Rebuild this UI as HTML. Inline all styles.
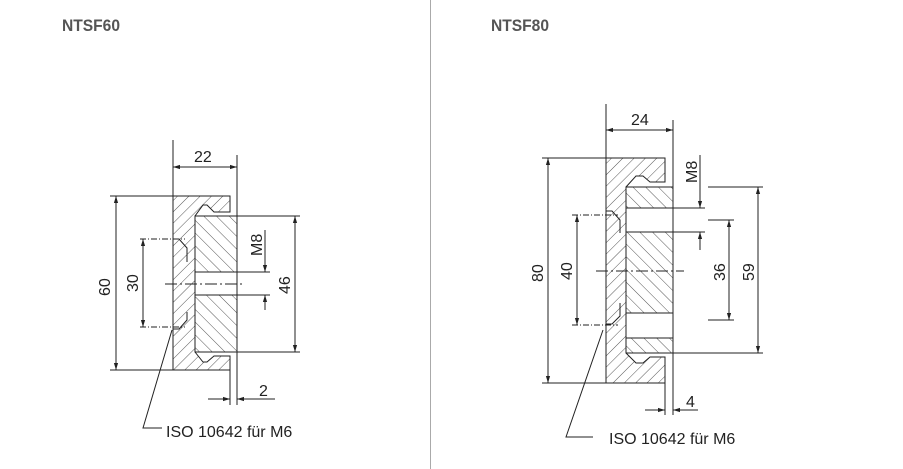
<!DOCTYPE html>
<html><head><meta charset="utf-8"><style>
html,body{margin:0;padding:0;background:#fff;}
svg{display:block;}
.t{font-family:"Liberation Sans",sans-serif;font-size:16px;fill:#222;}
.h{font-family:"Liberation Sans",sans-serif;font-weight:bold;font-size:17px;fill:#555;}
</style></head><body>
<svg width="903" height="469" viewBox="0 0 903 469" xmlns="http://www.w3.org/2000/svg">
<defs>
<pattern id="hb" width="8" height="8" patternUnits="userSpaceOnUse" patternTransform="rotate(45)">
<line x1="0" y1="0" x2="0" y2="8" stroke="#444" stroke-width="0.9"/></pattern>
<pattern id="hi" width="9" height="9" patternUnits="userSpaceOnUse" patternTransform="rotate(-45)">
<line x1="0" y1="0" x2="0" y2="9" stroke="#444" stroke-width="0.9"/></pattern>
<marker id="a" viewBox="0 0 10 10" refX="10" refY="5" markerWidth="7" markerHeight="7" orient="auto-start-reverse"><path d="M0,2 L10,5 L0,8 z" fill="#222"/></marker>
</defs>
<line x1="430.5" y1="0" x2="430.5" y2="469" stroke="#aaa" stroke-width="1"/>
<text class="h" x="62" y="31" textLength="58" lengthAdjust="spacingAndGlyphs">NTSF60</text>
<text class="h" x="491" y="31" textLength="58" lengthAdjust="spacingAndGlyphs">NTSF80</text>

<g stroke="#222" stroke-width="1" fill="none">
<!-- LEFT -->
<path d="M173,196 H230 V212 H214 L207,205 H203 L195,216 V352 L203,362 H207 L214,356 H230 V370 H173 Z" fill="url(#hb)"/>
<path d="M173,196 V370 H230 V356 M230,212 V196" />
<rect x="195" y="216" width="42" height="136" fill="url(#hi)"/>
<rect x="195" y="272" width="42" height="23" fill="#fff"/>
<line x1="195" y1="272" x2="237" y2="272"/><line x1="195" y1="295" x2="237" y2="295"/>
<path d="M173,239 L179,239 L187,248 V262 M187,312 V320 L179,329 H173" />
<line x1="173" y1="140" x2="173" y2="196"/><line x1="237" y1="155" x2="237" y2="216"/>
<line x1="173" y1="167" x2="237" y2="167" marker-start="url(#a)" marker-end="url(#a)"/>
<line x1="110" y1="196" x2="173" y2="196"/><line x1="110" y1="370" x2="173" y2="370"/>
<line x1="116" y1="196" x2="116" y2="370" marker-start="url(#a)" marker-end="url(#a)"/>
<line x1="140" y1="239" x2="185" y2="239" stroke-dasharray="6,2,1,2"/><line x1="140" y1="327" x2="185" y2="327" stroke-dasharray="6,2,1,2"/>
<line x1="143" y1="239" x2="143" y2="327" marker-start="url(#a)" marker-end="url(#a)"/>
<line x1="237" y1="216" x2="300" y2="216"/><line x1="237" y1="352" x2="300" y2="352"/>
<line x1="295" y1="216" x2="295" y2="352" marker-start="url(#a)" marker-end="url(#a)"/>
<line x1="237" y1="272" x2="270" y2="272"/><line x1="237" y1="295" x2="270" y2="295"/>
<line x1="265" y1="230" x2="265" y2="272" marker-end="url(#a)"/><line x1="265" y1="310" x2="265" y2="295" marker-end="url(#a)"/>
<line x1="165" y1="284" x2="245" y2="284" stroke-dasharray="12,3,2,3"/>
<line x1="230" y1="370" x2="230" y2="405"/><line x1="237" y1="352" x2="237" y2="405"/>
<line x1="208" y1="399" x2="230" y2="399" marker-end="url(#a)"/><line x1="275" y1="399" x2="237" y2="399" marker-end="url(#a)"/>
<path d="M172,330 L143,428 H162"/>

<!-- RIGHT -->
<path d="M606,158 H665 V182 H650 L643,176 H636 L626,187 V353 L636,363 H643 L650,357 H665 V383 H606 Z" fill="url(#hb)"/>
<rect x="626" y="187" width="47" height="166" fill="url(#hi)"/>
<rect x="626" y="208" width="47" height="24" fill="#fff"/>
<rect x="626" y="313" width="47" height="25" fill="#fff"/>
<line x1="626" y1="208" x2="673" y2="208"/><line x1="626" y1="232" x2="673" y2="232"/>
<line x1="626" y1="313" x2="673" y2="313"/><line x1="626" y1="338" x2="673" y2="338"/>
<path d="M606,211 L612,211 L620,220 V233 M606,324 L612,324 L620,316 V303"/>
<line x1="606" y1="104" x2="606" y2="158"/><line x1="673" y1="120" x2="673" y2="187"/>
<line x1="606" y1="130" x2="673" y2="130" marker-start="url(#a)" marker-end="url(#a)"/>
<line x1="542" y1="158" x2="606" y2="158"/><line x1="542" y1="383" x2="606" y2="383"/>
<line x1="548" y1="158" x2="548" y2="383" marker-start="url(#a)" marker-end="url(#a)"/>
<line x1="572" y1="215" x2="618" y2="215" stroke-dasharray="6,2,1,2"/><line x1="572" y1="325" x2="618" y2="325" stroke-dasharray="6,2,1,2"/>
<line x1="577" y1="215" x2="577" y2="325" marker-start="url(#a)" marker-end="url(#a)"/>
<line x1="708" y1="220" x2="734" y2="220"/><line x1="708" y1="320" x2="734" y2="320"/>
<line x1="729" y1="220" x2="729" y2="320" marker-start="url(#a)" marker-end="url(#a)"/>
<line x1="708" y1="187" x2="763" y2="187"/><line x1="673" y1="353" x2="763" y2="353"/>
<line x1="758" y1="187" x2="758" y2="353" marker-start="url(#a)" marker-end="url(#a)"/>
<line x1="673" y1="208" x2="705" y2="208"/><line x1="673" y1="232" x2="705" y2="232"/>
<line x1="700" y1="155" x2="700" y2="208" marker-end="url(#a)"/><line x1="700" y1="250" x2="700" y2="232" marker-end="url(#a)"/>
<line x1="596" y1="271" x2="684" y2="271" stroke-dasharray="12,3,2,3"/>
<line x1="665" y1="383" x2="665" y2="415"/><line x1="673" y1="353" x2="673" y2="415"/>
<line x1="645" y1="410" x2="665" y2="410" marker-end="url(#a)"/><line x1="698" y1="410" x2="673" y2="410" marker-end="url(#a)"/>
<path d="M603,330 L566,437 H593"/>
</g>

<g class="t">
<text x="194" y="162">22</text>
<text transform="translate(110,296) rotate(-90)">60</text>
<text transform="translate(138,292) rotate(-90)">30</text>
<text transform="translate(290,294) rotate(-90)">46</text>
<text transform="translate(262,256) rotate(-90)">M8</text>
<text x="259" y="396">2</text>
<text x="166" y="437">ISO 10642 für M6</text>
<text x="631" y="125">24</text>
<text transform="translate(543,282) rotate(-90)">80</text>
<text transform="translate(572,280) rotate(-90)">40</text>
<text transform="translate(725,281) rotate(-90)">36</text>
<text transform="translate(754,281) rotate(-90)">59</text>
<text transform="translate(697,183) rotate(-90)">M8</text>
<text x="686" y="407">4</text>
<text x="609" y="444">ISO 10642 für M6</text>
</g>
</svg>
</body></html>
